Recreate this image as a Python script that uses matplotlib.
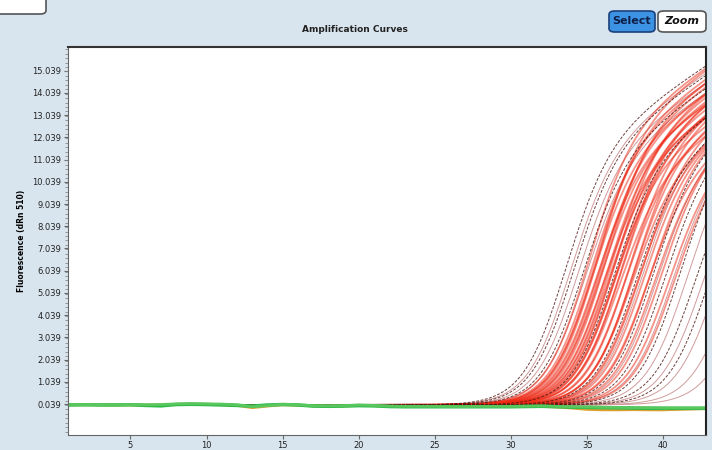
import numpy as np
import matplotlib.pyplot as plt
from matplotlib.patches import FancyBboxPatch

# cycle numbers for the baseline (negative) wells
cycles = np.arange(1, 46)

# negative wells
base_a = [0.02, 0.02, 0.01, 0.01, 0.02, 0.01, 0.02, 0.05, 0.06, 0.05,
          0.04, 0.01, -0.08, -0.03, 0.03, 0.01, -0.03, -0.04, -0.03, 0.00,
          -0.02, -0.05, -0.06, -0.06, -0.06, -0.07, -0.07, -0.06, -0.06, -0.06,
          -0.05, -0.04, -0.06, -0.08, -0.09, -0.10, -0.11, -0.12, -0.12, -0.13,
          -0.13, -0.13, -0.13, -0.13, -0.13]
base_b = [0.00, 0.01, 0.00, 0.00, 0.01, -0.02, -0.04, 0.02, 0.03, 0.02,
          0.00, -0.02, -0.05, 0.00, 0.02, 0.00, -0.05, -0.06, -0.05, -0.03,
          -0.04, -0.07, -0.08, -0.08, -0.08, -0.08, -0.08, -0.08, -0.08, -0.08,
          -0.07, -0.06, -0.08, -0.10, -0.11, -0.12, -0.13, -0.14, -0.15, -0.15,
          -0.15, -0.15, -0.15, -0.15, -0.15]
base_c = [0.01, 0.01, 0.01, 0.00, 0.00, 0.00, 0.01, 0.03, 0.04, 0.03,
          0.02, -0.02, -0.12, -0.05, 0.01, -0.01, -0.04, -0.05, -0.04, -0.02,
          -0.03, -0.06, -0.07, -0.07, -0.07, -0.07, -0.07, -0.07, -0.07, -0.07,
          -0.06, -0.06, -0.09, -0.14, -0.20, -0.22, -0.22, -0.21, -0.22, -0.22,
          -0.20, -0.18, -0.16, -0.15, -0.15]

# positive wells: midpoint cycle and level reached at the end of the steep rise
red_ct = [34.8, 35.0, 35.1, 35.2, 35.3, 35.4, 35.5, 35.6, 35.7, 35.8,
          35.9, 36.0, 36.1, 36.2, 36.3, 36.4, 36.5, 36.6, 36.7, 36.8,
          36.9, 37.0, 37.2, 37.4, 37.6, 37.7, 37.8, 38.0, 38.2, 38.4,
          38.6, 38.8, 39.1, 39.5, 40.0, 40.4]
red_level = [11.6, 11.0, 10.6, 11.3, 10.2, 11.8, 10.8, 10.4, 11.2, 9.9,
             11.5, 10.7, 10.1, 11.0, 10.5, 9.8, 11.3, 10.3, 10.9, 9.6,
             10.6, 11.1, 10.0, 10.8, 9.7, 10.4, 10.9, 9.9, 10.5, 10.1,
             9.6, 10.3, 9.8, 10.2, 9.7, 9.9]
dark_ct = [33.3, 33.8, 34.4, 36.4, 37.9, 39.0, 39.8, 40.8, 41.8, 42.8]
dark_level = [11.0, 10.8, 10.5, 10.2, 10.0, 10.4, 10.2, 10.6, 10.0, 10.3]
pink_ct = [33.6, 34.1, 34.6, 38.3, 39.3, 40.3, 41.3, 42.3, 43.3, 44.3, 45.3]
pink_level = [10.8, 10.6, 10.4, 10.3, 10.1, 10.0, 10.4, 9.9, 10.1, 9.8, 9.5]
slope = 0.7
drift = 0.45

ytick_vals = [i + 0.039 for i in range(16)]
xtick_vals = [5, 10, 15, 20, 25, 30, 35, 40]

bg = "#d8e5ee"
W, H = 712, 450
fig = plt.figure(figsize=(W / 100, H / 100), dpi=100, facecolor=bg)
ax = fig.add_axes([68 / W, 15 / H, 638 / W, 388 / H])
ax.set_facecolor("white")

x = np.linspace(1, 45, 400)

def curve(ct, level):
    s = 1 / (1 + np.exp(-slope * (x - ct)))
    return s * (level + drift * (x - ct))

for ct, lv in zip(pink_ct, pink_level):
    ax.plot(x, curve(ct, lv), color="#c98a8a", lw=0.7, alpha=0.85)
for ct, lv in zip(red_ct, red_level):
    ax.plot(x, curve(ct, lv), color="#ee2814", lw=1.3, alpha=0.5)
for ct, lv in zip(dark_ct, dark_level):
    ax.plot(x, curve(ct, lv), color="#4a1410", lw=0.7, alpha=0.8,
            ls=(0, (3, 1.5)))

ax.plot(cycles, base_c, color="#e0a030", lw=2)
ax.plot(cycles, base_b, color="#2fb84a", lw=2.5)
ax.plot(cycles, base_a, color="#58c85e", lw=2)

ax.set_xlim(0.9, 42.8)
ax.set_ylim(-1.35, 16.1)
ax.set_xticks(xtick_vals)
ax.set_yticks(ytick_vals)
ax.set_yticklabels([f"{v:.3f}" for v in ytick_vals])
ax.set_yticks(np.arange(-1.2, 16.1, 0.2), minor=True)
ax.tick_params(axis="both", labelsize=6, length=3, color="#666666",
               labelcolor="#222222", pad=2)
ax.tick_params(axis="x", pad=1)
ax.tick_params(axis="y", which="minor", length=2, color="#888888")
for s in ["left", "bottom"]:
    ax.spines[s].set_color("#666666")
ax.spines["top"].set_color("#333333")
ax.spines["top"].set_linewidth(1.5)
ax.spines["right"].set_color("#222222")
ax.spines["right"].set_linewidth(1.5)
ax.set_ylabel("Fluorescence (dRn 510)", fontsize=5.5, fontweight="bold",
              labelpad=4)

fig.text(355 / W, 1 - 30 / H, "Amplification Curves", fontsize=6.5,
         fontweight="bold", ha="center", va="center", color="#222222")

# buttons and tab drawn in pixel-like figure coordinates
def box(x0, y0, x1, y1, face, edge):
    fig.patches.append(FancyBboxPatch(
        (x0 / W, 1 - y1 / H), (x1 - x0) / W, (y1 - y0) / H,
        boxstyle="round,pad=0,rounding_size=0.008", transform=fig.transFigure,
        facecolor=face, edgecolor=edge, lw=1.2))

box(609, 11, 655, 32, "#3d93e3", "#1b3f7a")
box(658, 11, 706, 32, "white", "#555555")
box(-5, -5, 46, 14, "white", "#555555")
fig.text(632 / W, 1 - 21 / H, "Select", fontsize=8, fontweight="bold",
         ha="center", va="center", color="#0e1f4a")
fig.text(682 / W, 1 - 21 / H, "Zoom", fontsize=8, fontweight="bold",
         style="italic", ha="center", va="center", color="#111111")

fig.savefig("out.png", dpi=100, facecolor=bg)
